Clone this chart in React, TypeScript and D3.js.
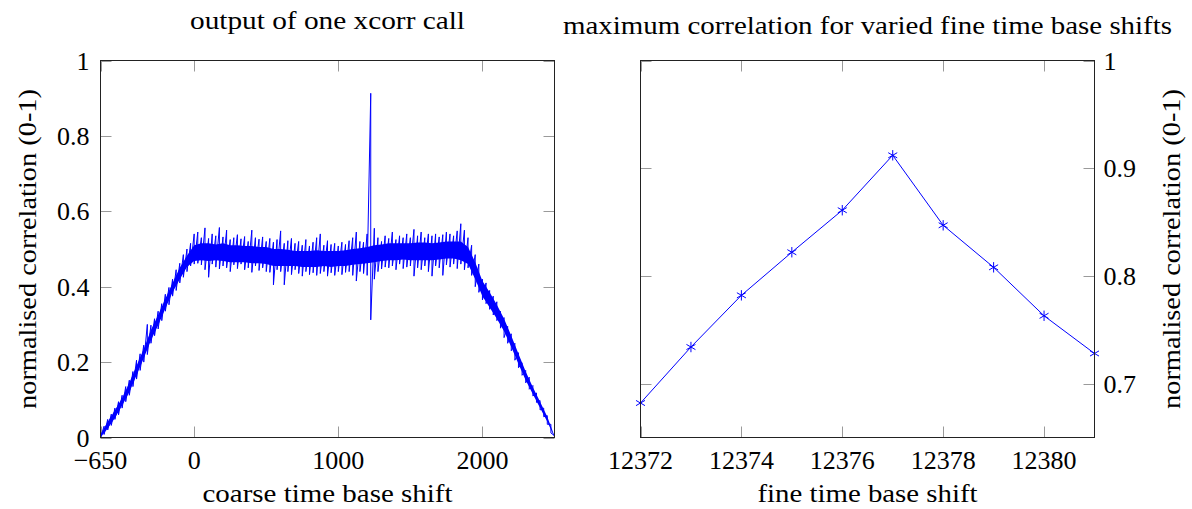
import React from 'react';
import * as d3 from 'd3';

// ---- coarse search: xcorr output, min / max of each 25-lag bin ----
const lagStart = -650;
const lagStep = 25;
const peakLo = [
  0, 0.008, 0.02, 0.032, 0.048, 0.06, 0.078, 0.095, 0.112, 0.135, 0.155, 0.178, 0.2, 0.22,
  0.25, 0.27, 0.288, 0.31, 0.335, 0.352, 0.375, 0.39, 0.41, 0.425, 0.44, 0.455, 0.46,
  0.462, 0.458, 0.445, 0.425, 0.46, 0.452, 0.447, 0.455, 0.45, 0.44, 0.458, 0.448, 0.46,
  0.445, 0.45, 0.438, 0.455, 0.443, 0.45, 0.44, 0.438, 0.405, 0.445, 0.44, 0.405, 0.44,
  0.432, 0.445, 0.435, 0.428, 0.44, 0.432, 0.437, 0.43, 0.435, 0.44, 0.428, 0.437, 0.43,
  0.44, 0.432, 0.438, 0.44, 0.43, 0.415, 0.44, 0.435, 0.43, 0.312, 0.42, 0.44, 0.447,
  0.452, 0.45, 0.455, 0.445, 0.46, 0.448, 0.452, 0.455, 0.428, 0.45, 0.445, 0.455, 0.44,
  0.428, 0.455, 0.45, 0.43, 0.458, 0.452, 0.46, 0.448, 0.46, 0.445,
  0.45, 0.43, 0.4, 0.385, 0.365, 0.355, 0.34, 0.325, 0.31, 0.29, 0.265, 0.25, 0.23, 0.205,
  0.185, 0.165, 0.145, 0.128, 0.11, 0.093, 0.073, 0.055, 0.035, 0.012, 0,
];
const peakHi = [
  0.012, 0.03, 0.048, 0.062, 0.078, 0.095, 0.112, 0.135, 0.152, 0.175, 0.205, 0.222, 0.245,
  0.3, 0.298, 0.315, 0.335, 0.355, 0.38, 0.398, 0.42, 0.445, 0.462, 0.485, 0.5, 0.515, 0.54,
  0.545, 0.53, 0.556, 0.528, 0.54, 0.535, 0.557, 0.532, 0.55, 0.525, 0.53, 0.538, 0.527,
  0.533, 0.52, 0.55, 0.53, 0.526, 0.532, 0.52, 0.528, 0.518, 0.525, 0.548, 0.515, 0.522,
  0.528, 0.515, 0.52, 0.51, 0.525, 0.508, 0.518, 0.53, 0.54, 0.51, 0.522, 0.512, 0.515,
  0.508, 0.518, 0.512, 0.522, 0.53, 0.545, 0.52, 0.518, 0.54, 0.913, 0.555, 0.53, 0.52,
  0.535, 0.528, 0.545, 0.525, 0.535, 0.53, 0.54, 0.53, 0.552, 0.535, 0.545, 0.53, 0.54,
  0.535, 0.54, 0.532, 0.538, 0.545, 0.54, 0.535, 0.548, 0.567, 0.55,
  0.53, 0.51, 0.485, 0.46, 0.42, 0.41, 0.39, 0.375, 0.36, 0.335, 0.318, 0.295, 0.275, 0.25,
  0.225, 0.198, 0.178, 0.16, 0.138, 0.118, 0.098, 0.078, 0.058, 0.035, 0.005,
];

// ---- dense core of the same trace, every 50 lags ----
const coreStep = 50;
const coreLo = [
  0, 0.024, 0.052, 0.085, 0.12, 0.165, 0.21, 0.258, 0.298, 0.342, 0.385, 0.42, 0.452, 0.468,
  0.47, 0.468, 0.47, 0.468, 0.465, 0.465, 0.465, 0.462, 0.462, 0.46, 0.455, 0.455, 0.455,
  0.455, 0.452, 0.452, 0.452, 0.455, 0.452, 0.455, 0.455, 0.458, 0.46, 0.462, 0.465, 0.468,
  0.47, 0.47, 0.472, 0.47, 0.47, 0.47, 0.47, 0.472, 0.475, 0.475, 0.47, 0.46, 0.42, 0.375,
  0.345, 0.315, 0.282, 0.24, 0.195, 0.152, 0.115, 0.078, 0.042, 0,
];
const coreHi = [
  0.008, 0.042, 0.072, 0.105, 0.145, 0.19, 0.235, 0.285, 0.325, 0.368, 0.41, 0.45, 0.482,
  0.51, 0.515, 0.515, 0.512, 0.515, 0.51, 0.51, 0.508, 0.508, 0.505, 0.505, 0.5, 0.5, 0.498,
  0.495, 0.495, 0.495, 0.497, 0.495, 0.495, 0.495, 0.497, 0.5, 0.502, 0.505, 0.51, 0.512,
  0.515, 0.515, 0.515, 0.515, 0.517, 0.517, 0.515, 0.517, 0.52, 0.52, 0.52, 0.505, 0.465,
  0.415, 0.385, 0.352, 0.315, 0.27, 0.222, 0.175, 0.133, 0.095, 0.055, 0.004,
];

// ---- fine search: best correlation per fine shift ----
const fineShift = [12372, 12373, 12374, 12375, 12376, 12377, 12378, 12379, 12380, 12381];
const fineMax = [0.682, 0.734, 0.782, 0.822, 0.861, 0.912, 0.847, 0.808, 0.763, 0.728];

// ---- axis ticks ----
const coarseTicks = [-650, 0, 1000, 2000];
const corrTicks = [0, 0.2, 0.4, 0.6, 0.8, 1];
const fineTicks = [12372, 12374, 12376, 12378, 12380];
const fineCorrTicks = [0.7, 0.8, 0.9, 1];

const W = 1192;
const H = 509;
const FONT = "'Liberation Serif', 'DejaVu Serif', serif";
const FS = 26;
const BLUE = '#0000ff';
const TICK = '#9a9a9a';
const TICK_LEN = 11;

const fmt = (v: number) => (v < 0 ? '\u2212' + Math.abs(v) : String(v));

type Box = { l: number; r: number; t: number; b: number };

function Ticks({ box, x, y, xt, yt }: { box: Box; x: (v: number) => number; y: (v: number) => number; xt: number[]; yt: number[] }) {
  const items: JSX.Element[] = [];
  xt.forEach((v, i) => {
    const px = Math.round(x(v)) + 0.5;
    if (Math.abs(px - box.l) < 1 || Math.abs(px - box.r) < 1) return;
    items.push(<line key={'xb' + i} x1={px} x2={px} y1={box.b} y2={box.b - TICK_LEN} />);
    items.push(<line key={'xt' + i} x1={px} x2={px} y1={box.t} y2={box.t + TICK_LEN} />);
  });
  yt.forEach((v, i) => {
    const py = Math.round(y(v)) + 0.5;
    if (Math.abs(py - box.t) < 1 || Math.abs(py - box.b) < 1) return;
    items.push(<line key={'yl' + i} x1={box.l} x2={box.l + TICK_LEN} y1={py} y2={py} />);
    items.push(<line key={'yr' + i} x1={box.r} x2={box.r - TICK_LEN} y1={py} y2={py} />);
  });
  return <g stroke={TICK} strokeWidth={1}>{items}</g>;
}

function Frame({ box }: { box: Box }) {
  return <rect x={box.l} y={box.t} width={box.r - box.l} height={box.b - box.t} fill="none" stroke="#222" strokeWidth={1} />;
}

// Serif caption stretched to the width of the Computer Modern setting
function Caption({ x, y, len, transform, children }: { x?: number; y?: number; len: number; transform?: string; children: string }) {
  return (
    <text x={x} y={y} transform={transform} textAnchor="middle" textLength={len} lengthAdjust="spacingAndGlyphs">
      {children}
    </text>
  );
}

export default function App() {
  // left panel
  const L: Box = { l: 100.5, r: 554.5, t: 60.5, b: 437.5 };
  const lagEnd = lagStart + lagStep * (peakLo.length - 1);
  const xL = d3.scaleLinear().domain([lagStart, lagEnd]).range([L.l, L.r]);
  const yL = d3.scaleLinear().domain([0, 1]).range([L.b, L.t]);

  const coreRows = coreLo.map((lo, i) => ({ lag: lagStart + i * coreStep, lo, hi: coreHi[i] }));
  const corePath = d3
    .area<{ lag: number; lo: number; hi: number }>()
    .x((d) => xL(d.lag))
    .y0((d) => yL(d.lo))
    .y1((d) => yL(d.hi))(coreRows) as string;

  const peakPts: [number, number][] = [];
  peakLo.forEach((lo, i) => {
    const lag = lagStart + i * lagStep;
    peakPts.push([lag, peakHi[i]]);
    peakPts.push([lag, lo]);
  });
  const peakPath = d3
    .line<[number, number]>()
    .x((d) => xL(d[0]))
    .y((d) => yL(d[1]))(peakPts) as string;

  // right panel
  const R: Box = { l: 640.5, r: 1094.5, t: 60.5, b: 437.5 };
  const xR = d3.scaleLinear().domain([fineShift[0], fineShift[fineShift.length - 1]]).range([R.l, R.r]);
  const yR = d3.scaleLinear().domain([0.65, 1]).range([R.b, R.t]);
  const finePts = fineShift.map((s, i) => [s, fineMax[i]] as [number, number]);
  const finePath = d3
    .line<[number, number]>()
    .x((d) => xR(d[0]))
    .y((d) => yR(d[1]))(finePts) as string;
  const markR = 5.2;
  const c30 = Math.cos(Math.PI / 6) * markR;
  const s30 = Math.sin(Math.PI / 6) * markR;

  const midY = (L.t + L.b) / 2;

  return (
    <svg width={W} height={H} style={{ position: 'absolute', left: 0, top: 0, background: '#fff' }} fontFamily={FONT} fontSize={FS}>
      <defs>
        <clipPath id="clipL">
          <rect x={L.l} y={L.t} width={L.r - L.l} height={L.b - L.t} />
        </clipPath>
      </defs>
      <rect width={W} height={H} fill="#fff" />

      {/* left: output of one xcorr call */}
      <Caption x={(L.l + L.r) / 2} y={29} len={275}>output of one xcorr call</Caption>
      <Ticks box={L} x={xL} y={yL} xt={coarseTicks} yt={corrTicks} />
      <g clipPath="url(#clipL)">
        <path d={corePath} fill={BLUE} stroke="none" />
        <path d={peakPath} fill="none" stroke={BLUE} strokeWidth={1} />
      </g>
      <Frame box={L} />
      {corrTicks.map((v) => (
        <text key={'ly' + v} x={L.l - 11} y={yL(v)} dy="0.35em" textAnchor="end">{fmt(v)}</text>
      ))}
      {coarseTicks.map((v) => (
        <text key={'lx' + v} x={xL(v)} y={469} textAnchor="middle">{fmt(v)}</text>
      ))}
      <Caption x={(L.l + L.r) / 2} y={502} len={250}>coarse time base shift</Caption>
      <Caption transform={`translate(36,${midY}) rotate(-90)`} len={320}>normalised correlation (0-1)</Caption>

      {/* right: maximum correlation for fine shifts */}
      <Caption x={(R.l + R.r) / 2} y={34} len={609}>maximum correlation for varied fine time base shifts</Caption>
      <Ticks box={R} x={xR} y={yR} xt={fineTicks} yt={fineCorrTicks} />
      <path d={finePath} fill="none" stroke={BLUE} strokeWidth={1} />
      <g stroke={BLUE} strokeWidth={1}>
        {finePts.map((d, i) => {
          const cx = xR(d[0]);
          const cy = yR(d[1]);
          return (
            <g key={'m' + i}>
              <line x1={cx} x2={cx} y1={cy - markR} y2={cy + markR} />
              <line x1={cx - c30} x2={cx + c30} y1={cy + s30} y2={cy - s30} />
              <line x1={cx - c30} x2={cx + c30} y1={cy - s30} y2={cy + s30} />
            </g>
          );
        })}
      </g>
      <Frame box={R} />
      {fineCorrTicks.map((v) => (
        <text key={'ry' + v} x={R.r + 9} y={yR(v)} dy="0.35em" textAnchor="start">{fmt(v)}</text>
      ))}
      {fineTicks.map((v) => (
        <text key={'rx' + v} x={xR(v)} y={469} textAnchor="middle">{fmt(v)}</text>
      ))}
      <Caption x={(R.l + R.r) / 2} y={502} len={220}>fine time base shift</Caption>
      <Caption transform={`translate(1180,${midY}) rotate(-90)`} len={320}>normalised correlation (0-1)</Caption>
    </svg>
  );
}
